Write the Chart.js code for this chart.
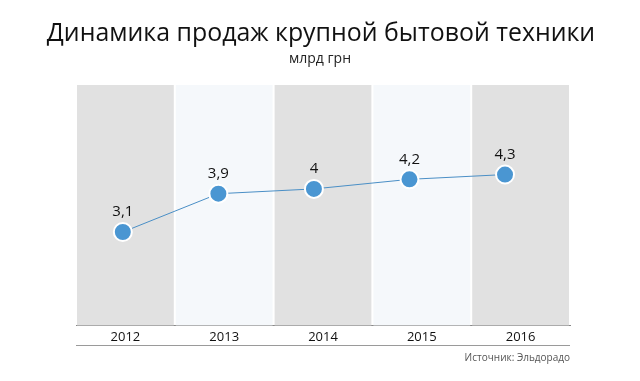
<!DOCTYPE html>
<html><head><meta charset="utf-8">
<script src="https://cdn.jsdelivr.net/npm/chart.js@4"></script>
<style>html,body{margin:0;padding:0;background:#fff}#wrap{width:640px;height:381px;position:relative}</style>
</head><body><div id="wrap"><canvas id="c" width="640" height="381"></canvas></div>
<script>
const categories = ['2012','2013','2014','2015','2016'];
const sales = [3.1, 3.9, 4.0, 4.2, 4.3];
const valueLabels = ['3,1','3,9','4','4,2','4,3'];
const bandColors = ['#e1e1e1','#f5f8fb'];
const titleText = 'Динамика продаж крупной бытовой техники';
const subtitleText = 'млрд грн';
const sourceText = 'Источник: Эльдорадо';

const bands = {
  id:'bands',
  beforeDatasetsDraw(chart){
    const {ctx, chartArea:a, scales:{x}} = chart;
    ctx.save();
    const w = (a.right - a.left)/categories.length;
    categories.forEach((c,i)=>{
      const cx = x.getPixelForValue(i);
      ctx.fillStyle = bandColors[i%2];
      ctx.fillRect(cx - w/2 + 1, a.top, w - 2, a.bottom - a.top);
    });
    ctx.restore();
  },
  afterDraw(chart){
    const {ctx, chartArea:a} = chart;
    ctx.save();
    ctx.textAlign = 'center'; ctx.textBaseline = 'middle';
    ctx.fillStyle = '#111'; ctx.font = '24.9px "Open Sans"';
    ctx.fillText(titleText, 321, 34);
    ctx.fillStyle = '#222'; ctx.font = '14px "Open Sans"';
    ctx.fillText(subtitleText, 320, 59);
    ctx.strokeStyle = '#9a9a9a'; ctx.lineWidth = 1;
    ctx.beginPath(); ctx.moveTo(a.left, 345.5); ctx.lineTo(a.right, 345.5); ctx.stroke();
    ctx.fillStyle = '#555'; ctx.font = '10px "Open Sans"';
    ctx.textAlign = 'right';
    ctx.fillText(sourceText, a.right, 358);
    const meta = chart.getDatasetMeta(0);
    ctx.fillStyle = '#111'; ctx.font = '15px "Open Sans"'; ctx.textAlign='center';
    meta.data.forEach((p,i)=>{ ctx.fillText(valueLabels[i], p.x, p.y - 20); });
    ctx.restore();
  }
};

new Chart(document.getElementById('c'), {
  type:'line',
  data:{ labels: categories, datasets:[{
    xAxisID:'xp',
    data: sales.map((v,i)=>({x:i, y:v})),
    borderColor:'#4a8fc6', borderWidth:1,
    pointBackgroundColor:'#4a96d2', pointBorderColor:'#ffffff', pointBorderWidth:2,
    pointRadius:9, pointHoverRadius:9, clip:false
  }]},
  options:{
    responsive:false, animation:false, devicePixelRatio:1,
    layout:{padding:{left:76, right:70, top:85, bottom:31}},
    plugins:{ legend:{display:false}, tooltip:{enabled:false} },
    scales:{
      x:{type:'category', offset:true, grid:{display:false, drawTicks:false},
         border:{display:true, color:'#888', width:1},
         ticks:{color:'#111', font:{family:'"Open Sans"', size:13}, padding:4.5}},
      xp:{type:'linear', display:false, min:-0.49, max:4.68},
      y:{display:false, min:1.15, max:6.17}
    }
  },
  plugins:[bands]
});
</script></body></html>
